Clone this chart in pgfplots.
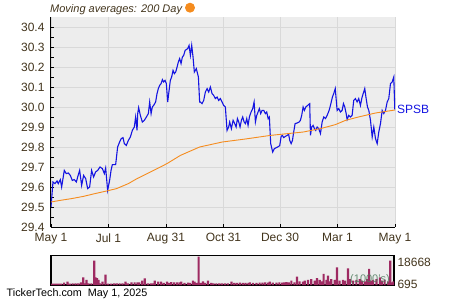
\documentclass[border=0pt]{standalone}
\usepackage{pgfplots}
\pgfplotsset{compat=1.18}
\usepackage{fontspec}
\setmainfont{Liberation Sans}
\definecolor{bgc}{RGB}{237,237,237}
\definecolor{gridc}{RGB}{217,217,217}
\definecolor{labc}{RGB}{66,52,28}
\definecolor{pricec}{RGB}{20,20,225}
\definecolor{mac}{RGB}{245,140,30}
\definecolor{volc}{RGB}{158,42,98}
\definecolor{kc}{RGB}{80,125,95}
\begin{document}
\begin{tikzpicture}[x=1pt,y=1pt]
\useasboundingbox (0,0) rectangle (450,300);
\begin{axis}[
  at={(51pt,73pt)}, anchor=south west,
  scale only axis, width=344pt, height=210pt,
  xmin=0, xmax=365, ymin=29.4, ymax=30.45,
  axis background/.style={fill=bgc},
  axis x line*=bottom, axis y line*=left,
  axis line style={black, line width=1pt},
  xtick={0,61,122,183,243,304,365},
  xticklabels={May 1,Jul 1,Aug 31,Oct 31,Dec 30,Mar 1,May 1},
  ytick={29.4,29.5,29.6,29.7,29.8,29.9,30.0,30.1,30.2,30.3,30.4},
  minor x tick num=1, minor y tick num=1,
  tick align=inside,
  major tick length=3pt, minor tick length=3pt,
  tick style={black, line width=0.8pt},
  grid=major, major grid style={gridc, line width=0.9pt},
  scaled y ticks=false,
  yticklabel style={font=\fontsize{12}{12}\selectfont, color=labc, xshift=-3pt,
    /pgf/number format/fixed, /pgf/number format/fixed zerofill,
    /pgf/number format/precision=1, /pgf/number format/assume math mode=true},
  xticklabel style={font=\fontsize{12}{12}\selectfont, color=labc, yshift=-3pt},
  clip=true,
]
\addplot[pricec, line width=1.1pt] coordinates {
(0,29.50)(2.1,29.625)(4.2,29.617)(6.4,29.63)(7.7,29.617)(9.9,29.637)(11.3,29.60)(14.1,29.683)(16.2,29.667)(18.4,29.67)(20.5,29.658)(22.6,29.633)(24.7,29.637)(26.9,29.625)(28.3,29.65)(30.4,29.683)(32.5,29.608)(34.6,29.658)(36.8,29.642)(38.9,29.592)(41,29.60)(43.1,29.683)(45.2,29.65)(47.3,29.675)(49.5,29.683)(52,29.70)(54.5,29.692)(56.6,29.667)(58,29.695)(60.1,29.583)(62.2,29.633)(63.7,29.683)(65.1,29.712)(68.6,29.712)(70.7,29.80)(72.8,29.825)(74.5,29.842)(76.4,29.847)(77.8,29.817)(79.9,29.808)(82.1,29.833)(84.2,29.85)(86.3,29.883)(88.4,29.90)(89.8,29.95)(91.3,29.883)(92,29.967)(93,29.997)(94.8,29.958)(96.9,29.925)(99,29.933)(101.2,29.95)(103.3,29.967)(104.7,30.025)(106.2,29.967)(107.5,30.0)(108.9,30.008)(111,30.025)(112.5,30.067)(113.9,30.092)(115.3,30.108)(116.8,30.117)(118.2,30.137)(119.5,30.125)(121,30.133)(122.4,30.117)(123.8,30.025)(125.3,30.083)(126.6,30.133)(128,30.15)(129.5,30.183)(130.9,30.167)(132.3,30.175)(133.8,30.20)(135.1,30.225)(136.5,30.242)(138,30.217)(139.4,30.25)(140.8,30.258)(142.3,30.283)(143.6,30.287)(145,30.292)(146.5,30.308)(147.9,30.258)(149.3,30.308)(150.7,30.25)(152.1,30.175)(154.2,30.192)(156.4,30.15)(157.7,30.025)(158.5,30.025)(160.3,30.017)(162,30.033)(163.8,30.075)(165.6,30.092)(167.3,30.075)(169.1,30.10)(170.9,30.067)(172.6,30.058)(174.4,30.042)(176.2,30.05)(177.9,30.033)(179.7,30.042)(181.5,30.025)(183.2,30.008)(185,30.0)(186.8,29.883)(188.5,29.90)(189.6,29.925)(191.4,29.892)(193.2,29.933)(194.9,29.917)(196.4,29.90)(197.8,29.942)(199.2,29.925)(200.6,29.90)(202,29.933)(203.4,29.95)(204.9,29.925)(206.3,29.917)(207.7,29.942)(209.1,29.908)(210.5,29.95)(212.3,29.975)(214,29.992)(215.5,30.025)(216.9,29.925)(218.3,29.958)(219.7,29.975)(221.1,29.992)(222.5,29.967)(224,29.983)(225.7,29.983)(227.5,29.967)(228.9,29.975)(230.4,29.942)(231.7,29.95)(233.1,29.817)(235.2,29.775)(237,29.792)(239.2,29.797)(241.6,29.803)(242.7,29.808)(244.2,29.853)(245.5,29.858)(246.9,29.847)(248.7,29.853)(250.5,29.858)(252.2,29.863)(253.3,29.833)(254.8,29.817)(256.2,29.833)(257.5,29.875)(259,29.917)(261.1,29.92)(263.3,29.925)(264.6,29.933)(266,29.958)(267.5,30.0)(268.9,29.983)(270.3,30.0)(272.4,30.008)(274.5,30.017)(275.3,29.858)(276.6,29.90)(278.1,29.908)(279.5,29.892)(280.9,29.883)(282.4,29.90)(284.1,29.892)(285.9,29.867)(287.7,29.925)(289.4,29.95)(291.2,29.942)(293,29.958)(295.1,29.983)(296.5,30.008)(298.6,30.05)(300,30.067)(301.6,30.092)(303.6,29.983)(305.3,29.992)(307.1,29.975)(308.9,29.983)(310.3,30.017)(311.7,30.0)(313.2,29.967)(314.2,29.937)(315.9,29.958)(317.7,29.95)(319.5,29.958)(321.2,30.033)(323,30.042)(324.8,30.025)(326.5,30.042)(328.3,30.008)(330.1,30.05)(331.8,30.075)(332.9,30.092)(334.4,30.042)(335.8,30.0)(337.2,29.983)(339,29.933)(340.8,29.85)(342.5,29.90)(344.3,29.842)(346.1,29.817)(347.8,29.875)(349.6,29.917)(351.4,29.983)(353.1,29.967)(354.9,29.983)(356.7,30.025)(358.4,30.042)(360.2,30.117)(362,30.125)(363.7,30.15)(364.8,29.987)
};
\addplot[mac, line width=0.9pt] coordinates {
(0,29.525)(9.6,29.533)(21.9,29.542)(34.3,29.553)(46.7,29.567)(59,29.58)(69.6,29.592)(82.1,29.617)(91.3,29.642)(108.9,29.683)(123.1,29.717)(137.3,29.758)(157.7,29.80)(181.8,29.825)(206.3,29.84)(232.8,29.858)(267.8,29.875)(285.9,29.892)(301.8,29.912)(312.4,29.933)(326.2,29.95)(344.3,29.97)(362.3,29.983)(365,29.985)
};
\end{axis}
\begin{axis}[
  at={(51pt,15pt)}, anchor=south west,
  scale only axis, width=343pt, height=29.3pt,
  xmin=0, xmax=365, ymin=0, ymax=24500,
  axis background/.style={fill=bgc},
  axis line style={black, line width=1.3pt},
  xtick=\empty, ytick={695,18668},
  scaled y ticks=false,
  ytick pos=right, yticklabel pos=right, major tick length=0pt,
  yticklabel style={font=\fontsize{12}{12}\selectfont, color=labc,
    /pgf/number format/fixed, /pgf/number format/1000 sep={}, /pgf/number format/assume math mode=true},
]
\addplot[ybar, bar width=2.3, fill=volc, draw=none] coordinates {
(1,1100)(3,1100)(5,1100)(7,1100)(9,1100)(11,1100)(14,1950)(17.6,2800)(20,1100)(23,1400)(26,1400)(29,1400)(31.8,2250)(34.3,6400)(36,1400)(37.8,4200)(40,1400)(43,1400)(46,20300)(47.5,6400)(49,5850)(50.5,4200)(52,1400)(54.8,2800)(58,8650)(61,1100)(64,1100)(67,1400)(70,1400)(73,1400)(76,1400)(79.2,2800)(82,1400)(85.6,2250)(89,2250)(92,2250)(94,2250)(97,3600)(99.8,5600)(103,1400)(106,1400)(108,1400)(110.4,3600)(114,2800)(117,2800)(120,1700)(123.5,2800)(126,1700)(128,2500)(131,2250)(134,2250)(137,2250)(138.6,2800)(142,1700)(145.7,1950)(148,1700)(151,3600)(152.8,2800)(155,1700)(157.1,23700)(159,1700)(161.7,3100)(164,1700)(167,3600)(170.5,1700)(173,1400)(176,1400)(179,1400)(182,1400)(185,1400)(188,1400)(192,2800)(195,1700)(198,1700)(201,1950)(204,1700)(207,1700)(210,1700)(211.6,2250)(215,1700)(218.7,1700)(222,1950)(225,1950)(228,2250)(231,1950)(232.8,2800)(236,1950)(239.9,1950)(243,2250)(246,1950)(248,2250)(250.5,2500)(253,2250)(255.8,3600)(259,2250)(261.8,6950)(264.6,3100)(268,2800)(270,3600)(273.5,4200)(277,5000)(280.6,3600)(283,5850)(285.9,4200)(288,3100)(290.1,9200)(293,4200)(294.7,7800)(296.5,3100)(298.2,5000)(301.8,4200)(304.3,14800)(307.1,3600)(310.6,4200)(313,3600)(316,14000)(318,5000)(321.5,3600)(325,4200)(328.5,5000)(331,3600)(334,3100)(336.5,5000)(338.5,13400)(340.5,3600)(342.8,4200)(346.4,5000)(350,6400)(352,3600)(355,4200)(358.7,3100)(361,20300)(363,2250)(364.5,3000)
};
\end{axis}
\node[anchor=west, font=\fontsize{11}{11}\selectfont\itshape, text=labc, inner sep=0pt] at (50,290.5) {Moving averages: 200 Day};
\fill[mac] (190,292.3) circle (5);
\node[anchor=west, font=\fontsize{12}{12}\selectfont, text=pricec, inner sep=0pt] at (397,190.7) {SPSB};
\node[font=\fontsize{11}{11}\selectfont, text=kc, opacity=0.85, inner sep=0pt] at (370,20) {(1000's)};
\node[anchor=west, font=\fontsize{10.8}{10.8}\selectfont, text=black, inner sep=0pt] at (6.5,6) {TickerTech.com\ \ May 1, 2025};
\end{tikzpicture}
\end{document}
